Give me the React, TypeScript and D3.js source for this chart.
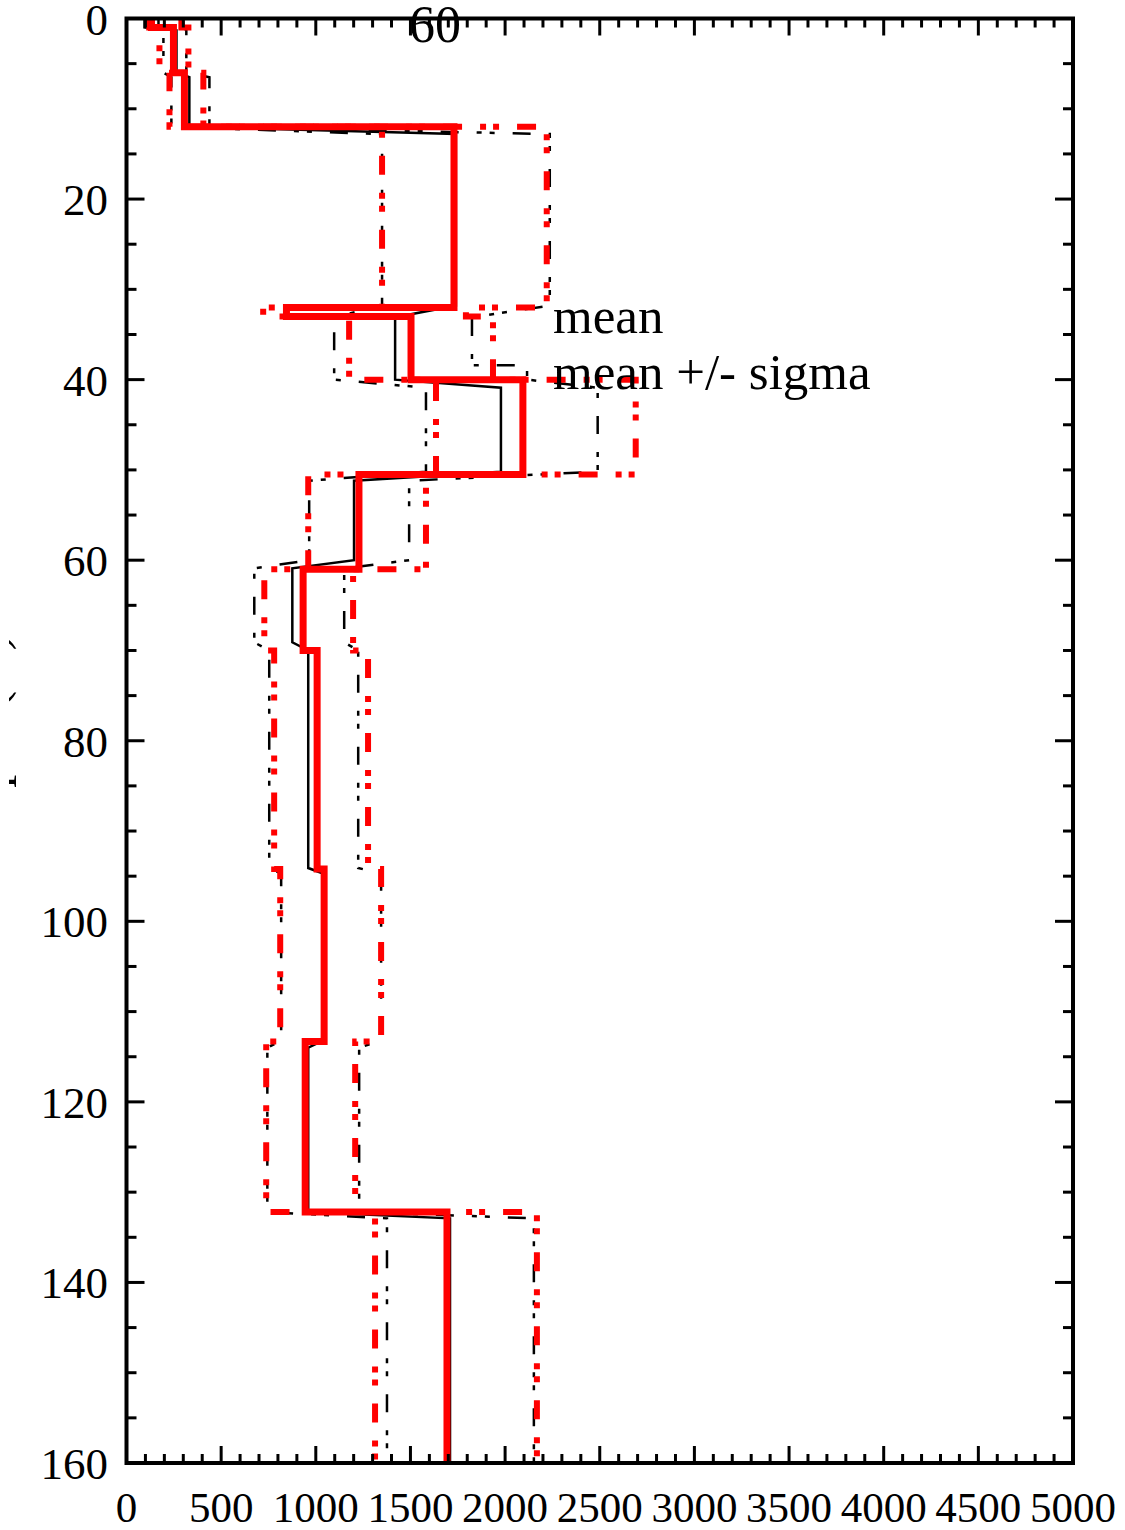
import React, { useEffect, useRef } from 'react';
import * as d3 from 'd3';

// layer boundaries (m) for the red profiles, values per layer (m/s)
const redDepths = [0, 1, 6, 12, 32, 33, 40, 50.5, 61, 70, 94.2, 113.3, 132.2, 160];
const redMean = [132, 248, 306, 1730, 845, 1503, 2094, 1228, 933, 1007, 1044, 944, 1693];
const redMinus = [120, 174, 227, 1350, 722, 1176, 1635, 960, 728, 780, 812, 738, 1313];
const redPlus = [290, 327, 406, 2220, 1793, 1936, 2690, 1582, 1197, 1276, 1345, 1208, 2168];

// black profiles: each layer has its own top and bottom (small slanted joins)
const blackTops = [0, 1.3, 6.5, 12.8, 33.1, 38.4, 40.9, 51.2, 60.9, 70.0, 94.7, 114.0, 132.9];
const blackBottoms = [1, 6, 12, 31.8, 38.4, 40, 50.2, 60.0, 69.1, 94.1, 113.2, 132.2, 160];
const blackMean = [169, 264, 332, 1740, 1419, 1419, 1978, 1202, 876, 960, 1039, 960, 1709];
const blackMinus = [95, 195, 237, 1350, 1097, 1097, 1582, 965, 675, 754, 817, 744, 1376];
const blackPlus = [300, 316, 438, 2236, 1825, 2116, 2489, 1493, 1150, 1224, 1345, 1229, 2152];

const xTicks = [0, 500, 1000, 1500, 2000, 2500, 3000, 3500, 4000, 4500, 5000];
const yTicks = [0, 20, 40, 60, 80, 100, 120, 140, 160];
const legendLabels = ['mean', 'mean +/- sigma'];

const App: React.FC = () => {
    const svgRef = useRef<SVGSVGElement>(null);

    useEffect(() => {
        if (!svgRef.current) return;
        const svg = d3.select(svgRef.current);
        svg.selectAll('*').remove();

        const left = 126.5, right = 1073, top = 18.5, bottom = 1463;
        const x = d3.scaleLinear().domain([0, 5000]).range([left, right]);
        const y = d3.scaleLinear().domain([0, 160]).range([top, bottom]);
        const font = '"Liberation Serif", "Times New Roman", serif';

        svg.append('rect').attr('width', 1125).attr('height', 1530).attr('fill', '#fff');

        // the y title is cut by the page edge: only descenders show
        svg.append('defs').append('clipPath').attr('id', 'ytitle-clip')
            .append('rect').attr('x', 9).attr('y', 0).attr('width', 40).attr('height', 1530);

        const line = d3.line<[number, number]>().x(d => x(d[0])).y(d => y(d[1]));

        const stepPoints = (depths: number[], vals: number[]) => {
            const pts: [number, number][] = [];
            vals.forEach((v, i) => {
                pts.push([v, depths[i]]);
                pts.push([v, depths[i + 1]]);
            });
            return pts;
        };
        const layerPoints = (vals: number[]) => {
            const pts: [number, number][] = [];
            vals.forEach((v, i) => {
                pts.push([v, blackTops[i]]);
                pts.push([v, blackBottoms[i]]);
            });
            return pts;
        };

        const blackDash = '18,18,5,8,5,18';
        const redDash = '19,18,6,7,6,18';

        // black profiles first
        [
            { d: blackMinus, dash: blackDash },
            { d: blackPlus, dash: blackDash },
            { d: blackMean, dash: null },
        ].forEach(s => {
            svg.append('path')
                .attr('d', line(layerPoints(s.d)))
                .attr('fill', 'none')
                .attr('stroke', '#000')
                .attr('stroke-width', 2.5)
                .attr('stroke-dasharray', s.dash)
                .attr('stroke-linejoin', 'miter');
        });

        // red profiles on top
        [
            { d: redMinus, dash: redDash, w: 6 },
            { d: redPlus, dash: redDash, w: 6 },
            { d: redMean, dash: null, w: 7 },
        ].forEach(s => {
            svg.append('path')
                .attr('d', line(stepPoints(redDepths, s.d)))
                .attr('fill', 'none')
                .attr('stroke', '#ff0000')
                .attr('stroke-width', s.w)
                .attr('stroke-dasharray', s.dash)
                .attr('stroke-linejoin', 'miter');
        });

        // ticks
        const tk = svg.append('g').attr('stroke', '#000').attr('stroke-width', 3);
        d3.range(0, 5001, 100).forEach(v => {
            const len = v % 500 === 0 ? 17 : 9;
            tk.append('line').attr('x1', x(v)).attr('x2', x(v)).attr('y1', bottom).attr('y2', bottom - len);
            tk.append('line').attr('x1', x(v)).attr('x2', x(v)).attr('y1', top).attr('y2', top + len);
        });
        d3.range(0, 161, 5).forEach(v => {
            const len = v % 20 === 0 ? 18 : 10;
            tk.append('line').attr('y1', y(v)).attr('y2', y(v)).attr('x1', left).attr('x2', left + len);
            tk.append('line').attr('y1', y(v)).attr('y2', y(v)).attr('x1', right).attr('x2', right - len);
        });

        // frame
        svg.append('rect')
            .attr('x', left).attr('y', top)
            .attr('width', right - left).attr('height', bottom - top)
            .attr('fill', 'none').attr('stroke', '#000').attr('stroke-width', 4);

        // tick labels
        svg.append('g').selectAll('text').data(xTicks).enter().append('text')
            .attr('x', d => x(d)).attr('y', 1522)
            .attr('text-anchor', 'middle')
            .attr('font-family', font).attr('font-size', 43)
            .text(d => d);
        svg.append('g').selectAll('text').data(yTicks).enter().append('text')
            .attr('x', 108).attr('y', d => y(d) + 16)
            .attr('text-anchor', 'end')
            .attr('font-family', font).attr('font-size', 45)
            .text(d => d);

        // y title, mostly cut off at the left edge
        svg.append('g').attr('clip-path', 'url(#ytitle-clip)')
            .append('text')
            .attr('transform', `translate(5, ${(top + bottom) / 2}) rotate(-90)`)
            .attr('text-anchor', 'middle')
            .attr('font-family', font).attr('font-size', 52)
            .text('Depth (m)');

        // stray label at top
        svg.append('text')
            .attr('x', 435).attr('y', 42)
            .attr('text-anchor', 'middle')
            .attr('font-family', font).attr('font-size', 52)
            .text('60');

        // legend texts
        legendLabels.forEach((t, i) => {
            svg.append('text')
                .attr('x', 553).attr('y', 333 + i * 56)
                .attr('font-family', font).attr('font-size', 51)
                .text(t);
        });
    }, []);

    return (
        <svg ref={svgRef} width={1125} height={1530}
            style={{ position: 'absolute', left: 0, top: 0, display: 'block' }} />
    );
};

export default App;
